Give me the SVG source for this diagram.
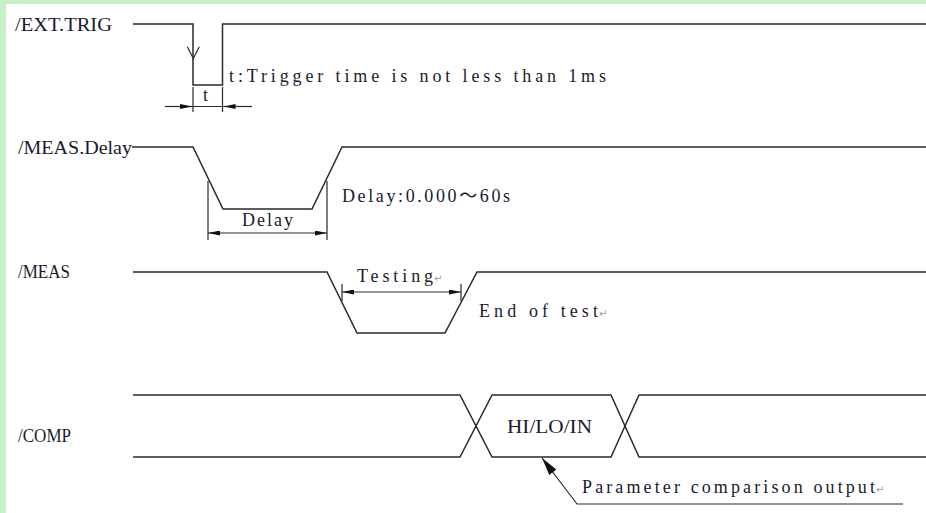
<svg xmlns="http://www.w3.org/2000/svg" width="926" height="513" viewBox="0 0 926 513">
<style>
.bg{fill:#ffffff}
.frame{fill:#c8efc8}
.sig{fill:none;stroke:#2a2a2a;stroke-width:1.5;stroke-linejoin:miter}
.dim{fill:none;stroke:#2a2a2a;stroke-width:1.2}
.lbl{font-family:"Liberation Serif","Noto Sans CJK SC",serif;font-size:18px;fill:#1a1a2e}
.txt{font-family:"Liberation Serif","Noto Sans CJK SC",serif;font-size:18px;fill:#1a1a2e}
.pm{font-family:"DejaVu Sans",sans-serif;font-size:10px;fill:#999999}
</style>
<defs>
<marker id="dimArrow" viewBox="0 0 12 5" refX="12" refY="2.5" markerWidth="12" markerHeight="5" markerUnits="userSpaceOnUse" orient="auto">
<path d="M0,0 L12,2.5 L0,5 z" fill="#111"/>
</marker>
<marker id="bigArrow" viewBox="0 0 18 9" refX="18" refY="4.5" markerWidth="18" markerHeight="9" markerUnits="userSpaceOnUse" orient="auto">
<path d="M0,0 L18,4.5 L0,9 z" fill="#111"/>
</marker>
</defs>
<rect class="bg" x="0" y="0" width="926" height="513"/>
<rect class="frame" x="0" y="0" width="926" height="4"/>
<rect class="frame" x="0" y="0" width="6" height="513"/>

<g id="ext-trig">
<text class="lbl" x="15" y="31" textLength="97" lengthAdjust="spacingAndGlyphs">/EXT.TRIG</text>
<path class="sig" d="M133,24 H193 V85 H222.5 V24 H926"/>
<polyline class="dim" points="187.3,46.7 193.3,58.5 199.3,46.7"/>
<path class="dim" d="M193,87 V112 M222.5,87 V112 M165,106.5 H252"/>
<path class="dim" d="M165,106.5 H192" marker-end="url(#dimArrow)"/>
<path class="dim" d="M252,106.5 H223.5" marker-end="url(#dimArrow)"/>
<text class="txt" x="203" y="101">t</text>
<text class="txt" x="229" y="82" textLength="377" lengthAdjust="spacing">t:Trigger time is not less than 1ms</text>
</g>

<g id="meas-delay">
<text class="lbl" x="18" y="154" textLength="114" lengthAdjust="spacingAndGlyphs">/MEAS.Delay</text>
<path class="sig" d="M132,147 H193 L223,209 H312 L342,147 H926"/>
<path class="dim" d="M208,181 V240 M327,181 V240"/>
<path class="dim" d="M267,233 H208" marker-end="url(#dimArrow)"/>
<path class="dim" d="M267,233 H327" marker-end="url(#dimArrow)"/>
<text class="txt" x="242" y="226" textLength="51" lengthAdjust="spacing">Delay</text>
<text class="txt" x="342" y="202" textLength="168" lengthAdjust="spacing">Delay:0.000～60s</text>
</g>

<g id="meas">
<text class="lbl" x="18" y="278" textLength="52" lengthAdjust="spacingAndGlyphs">/MEAS</text>
<path class="sig" d="M133,272 H327 L357,333 H445 L477,272 H926"/>
<path class="dim" d="M342,284 V301 M461,284 V301"/>
<path class="dim" d="M401,292 H342" marker-end="url(#dimArrow)"/>
<path class="dim" d="M401,292 H461" marker-end="url(#dimArrow)"/>
<text class="txt" x="357" y="282" textLength="76" lengthAdjust="spacing">Testing</text>
<text class="pm" x="434" y="282">↵</text>
<text class="txt" x="479" y="317" textLength="119" lengthAdjust="spacing">End of test</text>
<text class="pm" x="599" y="317">↵</text>
</g>

<g id="comp">
<text class="lbl" x="18" y="442" textLength="53" lengthAdjust="spacingAndGlyphs">/COMP</text>
<path class="sig" d="M133,395 H460 L492,457 H611 L639,395 H926"/>
<path class="sig" d="M133,457 H460 L492,395 H611 L639,457 H926"/>
<text class="txt" x="507" y="433" textLength="85" lengthAdjust="spacingAndGlyphs">HI/LO/IN</text>
</g>

<g id="connectors">
<path class="dim" d="M903,504 H577 L542,458" marker-end="url(#bigArrow)"/>
<text class="txt" x="582" y="493" textLength="293" lengthAdjust="spacing">Parameter comparison output</text>
<text class="pm" x="876" y="493">↵</text>
</g>
</svg>
